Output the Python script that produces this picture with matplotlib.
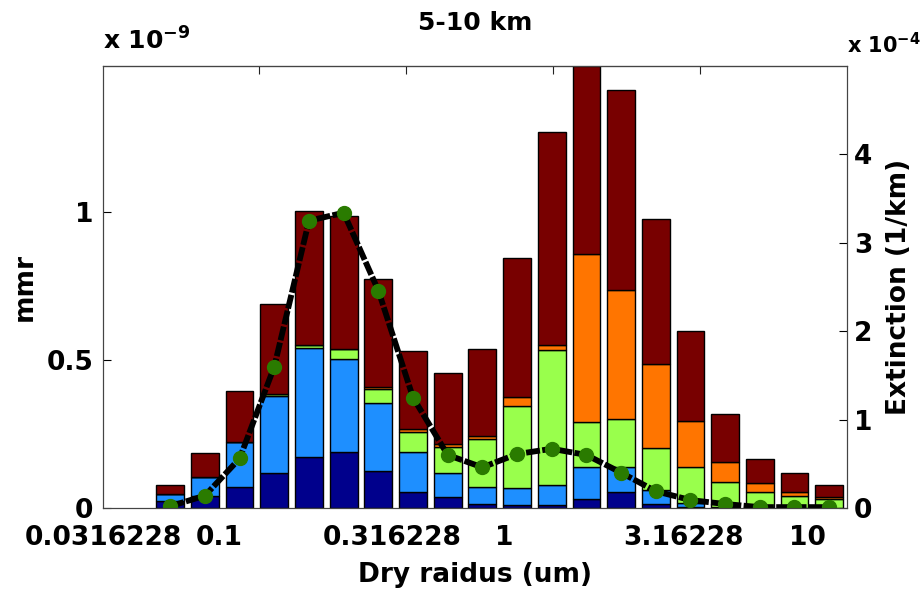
import numpy as np
import matplotlib
matplotlib.use("Agg")
import matplotlib.pyplot as plt

plt.rcParams['font.family'] = ['DejaVu Sans']
plt.rcParams['font.weight'] = 'bold'
plt.rcParams['axes.labelweight'] = 'bold'
plt.rcParams['font.size'] = 19

# mmr per size bin, units of 1e-9 (stacked bottom -> top)
mmr_navy = [0.025, 0.042, 0.072, 0.118, 0.173, 0.189, 0.125, 0.053, 0.036, 0.014,
            0.010, 0.009, 0.030, 0.055, 0.014, 0.003, 0.001, 0.0, 0.0, 0.0]
mmr_blue = [0.021, 0.062, 0.152, 0.259, 0.367, 0.313, 0.229, 0.135, 0.083, 0.058,
            0.057, 0.069, 0.107, 0.082, 0.047, 0.014, 0.004, 0.002, 0.001, 0.0]
mmr_green = [0.0, 0.0, 0.0, 0.008, 0.011, 0.034, 0.049, 0.070, 0.088, 0.162,
             0.278, 0.456, 0.152, 0.163, 0.141, 0.121, 0.082, 0.053, 0.040, 0.031]
mmr_orange = [0.0, 0.0, 0.0, 0.0, 0.0, 0.0, 0.007, 0.008, 0.009, 0.009,
              0.031, 0.017, 0.567, 0.436, 0.284, 0.156, 0.067, 0.028, 0.014, 0.005]
mmr_red = [0.031, 0.081, 0.172, 0.303, 0.450, 0.448, 0.364, 0.265, 0.241, 0.293,
           0.468, 0.718, 0.636, 0.676, 0.490, 0.305, 0.164, 0.083, 0.062, 0.042]

# extinction per bin, units of 1e-4 1/km
extinction = [0.02, 0.14, 0.56, 1.60, 3.25, 3.34, 2.46, 1.25, 0.60, 0.46,
              0.61, 0.67, 0.60, 0.40, 0.19, 0.09, 0.045, 0.01, 0.01, 0.01]

tick_labels = ['0.0316228', '0.1', '0.316228', '1', '3.16228', '10']
tick_pos = [-0.94, 2.42, 7.41, 10.63, 15.81, 19.38]

layers = [mmr_navy, mmr_blue, mmr_green, mmr_orange, mmr_red]
colors = ['#00008C', '#1E8FFF', '#99FF4C', '#FF7500', '#780000']

x = np.arange(1, len(mmr_red) + 1)
xlim = (-0.68, 20.515)

fig = plt.figure(figsize=(9.22, 5.98), dpi=100)
ax = fig.add_axes([103/922, 90/598, 744/922, 442/598])

bottom = np.zeros(len(x))
for vals, c in zip(layers, colors):
    vals = np.array(vals)
    ax.bar(x, vals, width=0.8, bottom=bottom, color=c, edgecolor='black', linewidth=1.0)
    bottom += vals

ax.set_xlim(xlim)
ax.set_ylim(0, bottom.max())
ax.set_yticks([0, 0.5, 1])
ax.set_yticklabels(['0', '0.5', '1'])
ax.set_xticks(tick_pos)
ax.set_xticklabels(tick_labels)
ax.tick_params(axis='x', length=0, pad=12)
ax.tick_params(axis='y', direction='in', length=6, right=True, pad=7)
for s in ax.spines.values():
    s.set_color('#444444')

top = ax.secondary_xaxis('top')
top.set_xticks(np.linspace(xlim[0], xlim[1], 6)[1:-1])
top.set_xticklabels([])
top.tick_params(direction='in', length=6, color='#222222')

ax.set_xlabel('Dry raidus (um)', labelpad=8)
ax.set_ylabel('mmr', labelpad=6)
ax.set_title('5-10 km', fontweight='bold', fontsize=18, pad=26)
ax.text(0, 1.025, r'x 10$^{\mathbf{-9}}$', transform=ax.transAxes, ha='left', va='bottom',
        fontsize=18)

ax2 = ax.twinx()
ax2.plot(x, extinction, color='black', linewidth=4.2, dashes=(2.4, 0.4))
ax2.plot(x, extinction, 'o', color='#2A7B00', markersize=10, markeredgecolor='#2A7B00')
ax2.set_ylim(0, 5)
ax2.set_yticks([0, 1, 2, 3, 4])
ax2.tick_params(axis='y', direction='in', length=6, pad=5)
ax2.set_ylabel('Extinction (1/km)', labelpad=10)
ax2.text(1.0, 1.02, r'x 10$^{\mathbf{-4}}$', transform=ax2.transAxes, ha='left', va='bottom',
         fontsize=15)
for s in ax2.spines.values():
    s.set_color('#444444')

fig.savefig('out.png', dpi=100)
